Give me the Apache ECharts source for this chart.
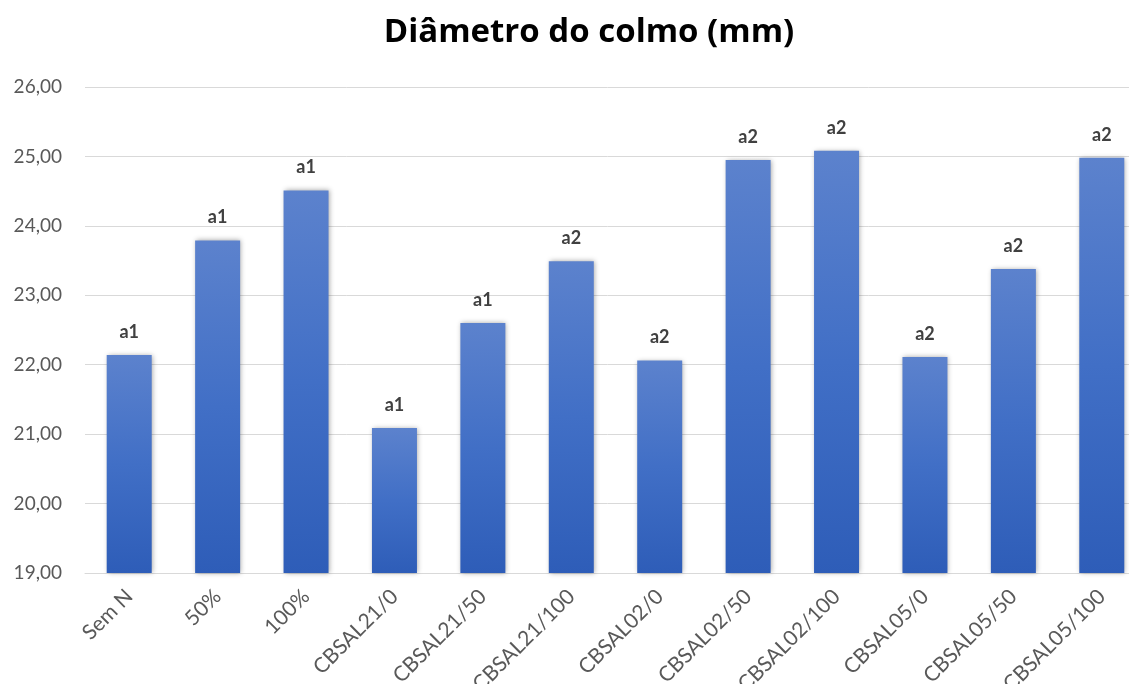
<!DOCTYPE html>
<html>
<head>
<meta charset="utf-8">
<script src="https://cdn.jsdelivr.net/npm/echarts@6/dist/echarts.min.js"></script>
<style>
  html, body { margin: 0; padding: 0; background: #ffffff; }
  #chart { width: 1129px; height: 684px; }
</style>
</head>
<body>
<div id="chart"></div>
<script>
// Stem diameter by treatment
const categories = ['Sem N', '50%', '100%', 'CBSAL21/0', 'CBSAL21/50', 'CBSAL21/100',
  'CBSAL02/0', 'CBSAL02/50', 'CBSAL02/100', 'CBSAL05/0', 'CBSAL05/50', 'CBSAL05/100'];
const diameters = [22.14, 23.79, 24.51, 21.09, 22.60, 23.49, 22.06, 24.95, 25.08, 22.11, 23.38, 24.98];
const letters = ['a1', 'a1', 'a1', 'a1', 'a1', 'a2', 'a2', 'a2', 'a2', 'a2', 'a2', 'a2'];
const titleText = 'Diâmetro do colmo (mm)';

const chart = echarts.init(document.getElementById('chart'), null, { renderer: 'canvas' });

const font = 'Lato, "Open Sans", "DejaVu Sans", sans-serif';

chart.setOption({
  animation: false,
  backgroundColor: '#ffffff',
  title: {
    text: titleText,
    left: 584,
    top: 11,
    textAlign: 'center',
    textStyle: { fontFamily: '"Open Sans", Lato, sans-serif', fontWeight: 'bold', fontSize: 33, color: '#000000' }
  },
  grid: {
    left: 85, top: 87, width: 1061, height: 486,
    containLabel: false,
    outerBoundsMode: 'none'
  },
  xAxis: {
    type: 'category',
    data: categories,
    axisLine: { show: true, lineStyle: { color: '#d9d9d9', width: 1 } },
    axisTick: { show: false },
    axisLabel: {
      rotate: 45,
      margin: 20,
      interval: 0,
      color: '#595959',
      fontFamily: font,
      fontSize: 21
    }
  },
  yAxis: {
    type: 'value',
    min: 19,
    max: 26,
    interval: 1,
    axisLine: { show: false },
    axisTick: { show: false },
    splitLine: { lineStyle: { color: '#d9d9d9', width: 1 } },
    axisLabel: {
      margin: 23,
      color: '#595959',
      fontFamily: font,
      fontSize: 19,
      formatter: v => v.toFixed(2).replace('.', ',')
    }
  },
  series: [{
    type: 'bar',
    data: diameters,
    barWidth: 45,
    itemStyle: {
      color: new echarts.graphic.LinearGradient(0, 0, 0, 1, [
        { offset: 0, color: '#5c82cd' },
        { offset: 0.5, color: '#416fc6' },
        { offset: 1, color: '#2e5db8' }
      ]),
      shadowBlur: 5,
      shadowColor: 'rgba(0,0,0,0.35)',
      shadowOffsetX: 1,
      shadowOffsetY: 0
    },
    label: {
      show: true,
      position: 'top',
      distance: 14,
      formatter: p => letters[p.dataIndex],
      color: '#404040',
      fontFamily: font,
      fontWeight: 'bold',
      fontSize: 18
    }
  }]
});
</script>
</body>
</html>
